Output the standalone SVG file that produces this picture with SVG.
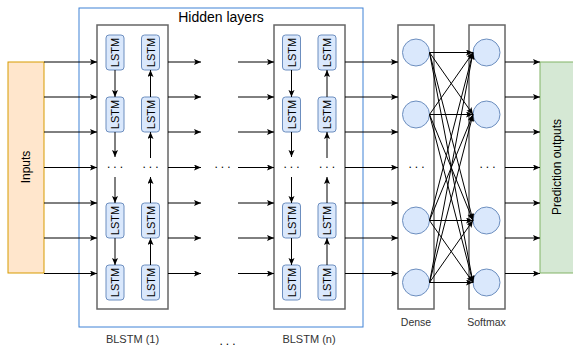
<svg xmlns="http://www.w3.org/2000/svg" width="573" height="349" viewBox="0 0 573 349">
<style>
text{font-family:"Liberation Sans",Arial,sans-serif;fill:#000}
.lbl{fill:#333;font-size:11px;text-anchor:middle}
.box{fill:none;stroke:#666;stroke-width:1.5}
.lstm{fill:#dae8fc;stroke:#6c8ebf;stroke-width:1}
.lt{font-size:11px;text-anchor:middle}
.c{fill:#dae8fc;stroke:#6c8ebf;stroke-width:1}
.a{stroke:#000;stroke-width:1;fill:none;marker-end:url(#ah)}
.l{stroke:#000;stroke-width:1;fill:none}
.dots{font-size:12px;text-anchor:middle;letter-spacing:3px}
</style>
<defs>
<marker id="ah" markerUnits="userSpaceOnUse" markerWidth="8" markerHeight="8" refX="7" refY="3" orient="auto">
<path d="M0,0 L7,3 L0,6 L1.5,3 z" fill="#000"/>
</marker>
</defs>
<g id="hidden-layers">
<rect x="79" y="8" width="284" height="319" fill="none" stroke="#3f82d6" stroke-width="1"/>
<text x="221" y="22" style="font-size:14px;text-anchor:middle">Hidden layers</text>
</g>
<g id="inputs">
<rect x="8" y="62" width="36" height="211" fill="#ffe6cc" stroke="#d79b00" stroke-width="1"/>
<text x="26" y="167" transform="rotate(-90 26 167)" dy="4" style="font-size:12px;text-anchor:middle">Inputs</text>
</g>
<g id="prediction-outputs">
<rect x="540" y="62" width="34" height="211" fill="#d5e8d4" stroke="#82b366" stroke-width="1"/>
<text x="557" y="167" transform="rotate(-90 557 167)" dy="4" style="font-size:12px;text-anchor:middle">Prediction outputs</text>
</g>
<g id="blstm1">
<rect class="box" x="97" y="25" width="71" height="284"/>
<rect class="lstm" x="106" y="35" width="18" height="35" rx="3"/>
<rect class="lstm" x="106" y="97" width="18" height="35" rx="3"/>
<rect class="lstm" x="106" y="203" width="18" height="35" rx="3"/>
<rect class="lstm" x="106" y="265" width="18" height="35" rx="3"/>
<rect class="lstm" x="141.5" y="35" width="18" height="35" rx="3"/>
<rect class="lstm" x="141.5" y="97" width="18" height="35" rx="3"/>
<rect class="lstm" x="141.5" y="203" width="18" height="35" rx="3"/>
<rect class="lstm" x="141.5" y="265" width="18" height="35" rx="3"/>
<text class="lt" x="115" y="52.5" dy="4" transform="rotate(-90 115 52.5)">LSTM</text>
<text class="lt" x="115" y="114.5" dy="4" transform="rotate(-90 115 114.5)">LSTM</text>
<text class="lt" x="115" y="220.5" dy="4" transform="rotate(-90 115 220.5)">LSTM</text>
<text class="lt" x="115" y="282.5" dy="4" transform="rotate(-90 115 282.5)">LSTM</text>
<text class="lt" x="150.5" y="52.5" dy="4" transform="rotate(-90 150.5 52.5)">LSTM</text>
<text class="lt" x="150.5" y="114.5" dy="4" transform="rotate(-90 150.5 114.5)">LSTM</text>
<text class="lt" x="150.5" y="220.5" dy="4" transform="rotate(-90 150.5 220.5)">LSTM</text>
<text class="lt" x="150.5" y="282.5" dy="4" transform="rotate(-90 150.5 282.5)">LSTM</text>
<text class="dots" x="116.5" y="168">...</text>
<text class="dots" x="152" y="168">...</text>
<text class="lbl" x="132.5" y="343">BLSTM (1)</text>
</g>
<g id="blstmn">
<rect class="box" x="274" y="25" width="71" height="284"/>
<rect class="lstm" x="282.5" y="35" width="18" height="35" rx="3"/>
<rect class="lstm" x="282.5" y="97" width="18" height="35" rx="3"/>
<rect class="lstm" x="282.5" y="203" width="18" height="35" rx="3"/>
<rect class="lstm" x="282.5" y="265" width="18" height="35" rx="3"/>
<rect class="lstm" x="318" y="35" width="18" height="35" rx="3"/>
<rect class="lstm" x="318" y="97" width="18" height="35" rx="3"/>
<rect class="lstm" x="318" y="203" width="18" height="35" rx="3"/>
<rect class="lstm" x="318" y="265" width="18" height="35" rx="3"/>
<text class="lt" x="291.5" y="52.5" dy="4" transform="rotate(-90 291.5 52.5)">LSTM</text>
<text class="lt" x="291.5" y="114.5" dy="4" transform="rotate(-90 291.5 114.5)">LSTM</text>
<text class="lt" x="291.5" y="220.5" dy="4" transform="rotate(-90 291.5 220.5)">LSTM</text>
<text class="lt" x="291.5" y="282.5" dy="4" transform="rotate(-90 291.5 282.5)">LSTM</text>
<text class="lt" x="327" y="52.5" dy="4" transform="rotate(-90 327 52.5)">LSTM</text>
<text class="lt" x="327" y="114.5" dy="4" transform="rotate(-90 327 114.5)">LSTM</text>
<text class="lt" x="327" y="220.5" dy="4" transform="rotate(-90 327 220.5)">LSTM</text>
<text class="lt" x="327" y="282.5" dy="4" transform="rotate(-90 327 282.5)">LSTM</text>
<text class="dots" x="293" y="168">...</text>
<text class="dots" x="328.5" y="168">...</text>
<text class="lbl" x="309" y="343">BLSTM (n)</text>
</g>
<g id="dense">
<rect class="box" x="398" y="25" width="36" height="284"/>
<circle class="c" cx="416" cy="52.5" r="13.5"/>
<circle class="c" cx="416" cy="114.5" r="13.5"/>
<circle class="c" cx="416" cy="220.5" r="13.5"/>
<circle class="c" cx="416" cy="282.5" r="13.5"/>
<text class="dots" x="418" y="168">...</text>
<text class="lbl" x="416" y="326" style="font-size:10.5px">Dense</text>
</g>
<g id="softmax">
<rect class="box" x="469" y="25" width="36" height="284"/>
<circle class="c" cx="486.5" cy="52.5" r="13.5"/>
<circle class="c" cx="486.5" cy="114.5" r="13.5"/>
<circle class="c" cx="486.5" cy="220.5" r="13.5"/>
<circle class="c" cx="486.5" cy="282.5" r="13.5"/>
<text class="dots" x="489" y="168">...</text>
<text class="lbl" x="486.5" y="326" style="font-size:10.5px">Softmax</text>
</g>
<g id="between-dots">
<text class="dots" x="224" y="168">...</text>
<text class="dots" x="229" y="345">...</text>
</g>
<g id="connectors">
<path class="a" d="M44,62H97"/><path class="a" d="M44,97H97"/><path class="a" d="M44,132H97"/><path class="a" d="M44,167.5H97"/><path class="a" d="M44,203H97"/><path class="a" d="M44,238H97"/><path class="a" d="M44,273.5H97"/>
<path class="a" d="M168,62H201"/><path class="a" d="M168,97H201"/><path class="a" d="M168,132H201"/><path class="a" d="M168,167.5H201"/><path class="a" d="M168,203H201"/><path class="a" d="M168,238H201"/><path class="a" d="M168,273.5H201"/>
<path class="a" d="M238,62H274"/><path class="a" d="M238,97H274"/><path class="a" d="M238,132H274"/><path class="a" d="M238,167.5H274"/><path class="a" d="M238,203H274"/><path class="a" d="M238,238H274"/><path class="a" d="M238,273.5H274"/>
<path class="a" d="M345,62H398"/><path class="a" d="M345,97H398"/><path class="a" d="M345,132H398"/><path class="a" d="M345,167.5H398"/><path class="a" d="M345,203H398"/><path class="a" d="M345,238H398"/><path class="a" d="M345,273.5H398"/>
<path class="a" d="M505,62H540"/><path class="a" d="M505,97H540"/><path class="a" d="M505,132H540"/><path class="a" d="M505,167.5H540"/><path class="a" d="M505,203H540"/><path class="a" d="M505,238H540"/><path class="a" d="M505,273.5H540"/>
<path class="a" d="M115,70V97"/><path class="a" d="M115,132V157"/><path class="a" d="M115,177V203"/><path class="a" d="M115,238V265"/>
<path class="a" d="M150.5,97V70"/><path class="a" d="M150.5,158V132"/><path class="a" d="M150.5,203V177"/><path class="a" d="M150.5,265V238"/>
<path class="a" d="M291.5,70V97"/><path class="a" d="M291.5,132V157"/><path class="a" d="M291.5,177V203"/><path class="a" d="M291.5,238V265"/>
<path class="a" d="M327,97V70"/><path class="a" d="M327,158V132"/><path class="a" d="M327,203V177"/><path class="a" d="M327,265V238"/>
<path class="a" d="M429.5,52.5L473,52.5"/><path class="a" d="M429.5,52.5L473,114.5"/><path class="a" d="M429.5,52.5L473,220.5"/><path class="a" d="M429.5,52.5L473,282.5"/>
<path class="a" d="M429.5,114.5L473,52.5"/><path class="a" d="M429.5,114.5L473,114.5"/><path class="a" d="M429.5,114.5L473,220.5"/><path class="a" d="M429.5,114.5L473,282.5"/>
<path class="a" d="M429.5,220.5L473,52.5"/><path class="a" d="M429.5,220.5L473,114.5"/><path class="a" d="M429.5,220.5L473,220.5"/><path class="a" d="M429.5,220.5L473,282.5"/>
<path class="a" d="M429.5,282.5L473,52.5"/><path class="a" d="M429.5,282.5L473,114.5"/><path class="a" d="M429.5,282.5L473,220.5"/><path class="a" d="M429.5,282.5L473,282.5"/>
</g>
</svg>
